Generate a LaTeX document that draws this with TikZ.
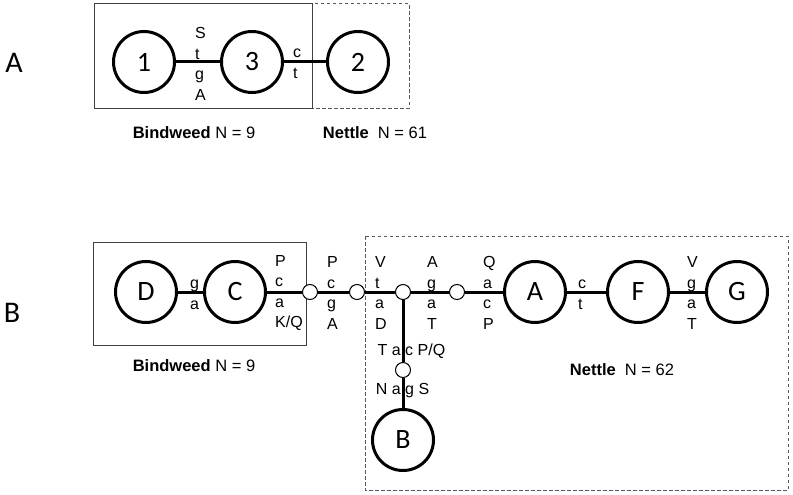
\documentclass[tikz,border=0pt]{standalone}
\usepackage{fontspec}
\setmainfont{Liberation Sans}
\newfontfamily\calfont{Carlito}
\begin{document}
\begin{tikzpicture}[x=1pt,y=-1pt,
  big/.style={circle,draw,line width=3pt,minimum size=61pt,inner sep=0pt,font=\calfont\fontsize{28}{28}\selectfont,fill=white},
  small/.style={circle,draw,line width=1pt,minimum size=15pt,inner sep=0pt,fill=white},
  edge/.style={line width=3pt},
  lbl/.style={anchor=west,inner sep=0pt,align=left,font=\fontsize{16}{20.5}\selectfont},
  brl/.style={anchor=base east,inner sep=0pt,font=\fontsize{16}{20.5}\selectfont},
  brr/.style={anchor=base west,inner sep=0pt,font=\fontsize{16}{20.5}\selectfont},
  captext/.style={inner sep=0pt,font=\fontsize{16.5}{18}\selectfont},
  panel/.style={inner sep=0pt,font=\calfont\fontsize{30}{30}\selectfont},
  solidbox/.style={draw=black!75,line width=1pt},
  dashbox/.style={draw=black!65,line width=1pt,dash pattern=on 3.5pt off 2.5pt}]
\useasboundingbox (0,0) rectangle (793,495);
% ---------- Panel A ----------
\node[panel] (pA) at (14,63) {A};
\draw[dashbox] (312,4) rectangle (409,108);
\draw[solidbox] (94,4) rectangle (312,108);
\node[big] (n1) at (144,62) {1};
\node[big] (n3) at (252,62) {3};
\node[big] (n2) at (358,62) {2};
\draw[edge] (n1) -- (n3);
\draw[edge] (n3) -- (n2);
\node[lbl] (l13) at (195,64) {S\\t\\g\\A};
\node[lbl] (l32) at (293,64) {c\\t};
\node[captext] (bwA) at (194,133) {\textbf{Bindweed} N = 9};
\node[captext] (ntA) at (375,133) {\textbf{Nettle}\ \ N = 61};
% ---------- Panel B ----------
\node[panel] (pB) at (12,313) {B};
\draw[solidbox] (93,242) rectangle (306,345);
\draw[dashbox] (365,236) rectangle (788,490);
\node[big] (D) at (146,292) {D};
\node[big] (C) at (235,292) {C};
\node[small] (s1) at (310,292) {};
\node[small] (s2) at (357,292) {};
\node[small] (s3) at (403,292) {};
\node[small] (s4) at (457,292) {};
\node[big] (A) at (535,292) {A};
\node[big] (F) at (638,292) {F};
\node[big] (G) at (737,292) {G};
\node[small] (s5) at (403,370) {};
\node[big] (B) at (403,440) {B};
\draw[edge] (D) -- (C);
\draw[edge] (C) -- (s1);
\draw[edge] (s1) -- (s2);
\draw[edge] (s2) -- (s3);
\draw[edge] (s3) -- (s4);
\draw[edge] (s4) -- (A);
\draw[edge] (A) -- (F);
\draw[edge] (F) -- (G);
\draw[edge] (s3) -- (s5);
\draw[edge] (s5) -- (B);
\node[lbl] (lDC) at (190,295) {g\\a};
\node[lbl] (lC1) at (275,293) {P\\c\\a\\K/Q};
\node[lbl] (l12) at (327,293) {P\\c\\g\\A};
\node[lbl] (l23) at (375,293) {V\\t\\a\\D};
\node[lbl] (l34) at (427,293) {A\\g\\a\\T};
\node[lbl] (l4A) at (483,293) {Q\\a\\c\\P};
\node[lbl] (lAF) at (578,295) {c\\t};
\node[lbl] (lFG) at (687,293) {V\\g\\a\\T};
\node[brl] (lbr1a) at (401,355) {T a};
\node[brr] (lbr1b) at (405,355) {c P/Q};
\node[brl] (lbr2a) at (401,394) {N a};
\node[brr] (lbr2b) at (405,394) {g S};
\node[captext] (bwB) at (194,366) {\textbf{Bindweed} N = 9};
\node[captext] (ntB) at (622,370) {\textbf{Nettle}\ \ N = 62};
\end{tikzpicture}
\end{document}
